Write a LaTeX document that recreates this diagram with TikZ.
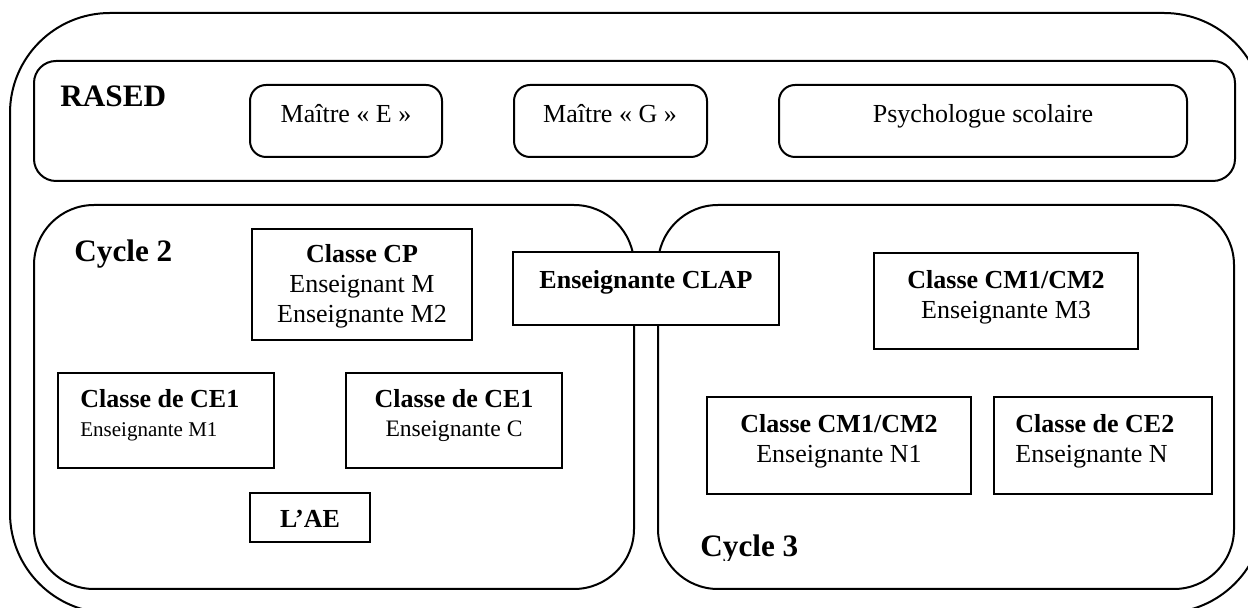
\documentclass[tikz,border=0pt]{standalone}
\usepackage{fontspec}
\setmainfont{Liberation Serif}
\usetikzlibrary{fit}
\begin{document}
\begin{tikzpicture}[x=0.5pt,y=-0.5pt,
  frame/.style={draw, line width=1pt, inner sep=0pt},
  sq/.style={frame},
  rnd/.style={frame, rounded corners=#1},
  txt/.style={anchor=base, inner sep=0pt, font=\fontsize{13}{15}\selectfont},
  btxt/.style={anchor=base, inner sep=0pt, font=\fontsize{13}{15}\selectfont\bfseries},
  head/.style={anchor=base west, inner sep=0pt, font=\fontsize{15.6}{18}\selectfont\bfseries}]
\useasboundingbox (0,0) rectangle (1248,608);
\clip (0,0) rectangle (1248,608);
% outer frame
\node[rnd=50pt, fit={(10,13)(1264,613)}] (outer) {};
% RASED
\node[rnd=11pt, fit={(34,61)(1235,181)}] (rased) {};
\node[head] (rasedt) at (60,107) {RASED};
\node[rnd=8pt, fit={(250,85)(442,157)}] (me) {};
\node[txt] (met) at (346,123) {Maître «~E~»};
\node[rnd=8pt, fit={(514,85)(707,157)}] (mg) {};
\node[txt] (mgt) at (610,123) {Maître «~G~»};
\node[rnd=8pt, fit={(779,85)(1187,157)}] (psy) {};
\node[txt] (psyt) at (983,123) {Psychologue scolaire};
% cycles
\node[rnd=30pt, fit={(34,205)(634,589)}] (c2) {};
\node[head] (c2t) at (74,262) {Cycle 2};
\node[rnd=30pt, fit={(658,205)(1234,589)}] (c3) {};
\begin{scope}
  \clip (660,500) rectangle (900,561);
  \node[head] (c3t) at (700,557) {Cycle 3};
\end{scope}
% cycle 2 boxes
\node[sq, fit={(252,229)(472,340)}] (cp) {};
\node[btxt] (cp1) at (362,263) {Classe CP};
\node[txt] (cp2) at (362,293) {Enseignant M};
\node[txt] (cp3) at (362,323) {Enseignante M2};
\node[sq, fill=white, fit={(513,252)(779,325)}] (clap) {};
\node[btxt] (clapt) at (646,289) {Enseignante CLAP};
\node[sq, fit={(58,373)(274,468)}] (ce1a) {};
\node[btxt, anchor=base west] (ce1a1) at (80,408) {Classe de CE1};
\node[txt, anchor=base west, font=\fontsize{10.5}{12}\selectfont] (ce1a2) at (80,437) {Enseignante M1};
\node[sq, fit={(346,373)(562,468)}] (ce1b) {};
\node[btxt] (ce1b1) at (454,408) {Classe de CE1};
\node[txt, font=\fontsize{11.8}{14}\selectfont] (ce1b2) at (454,437) {Enseignante C};
\node[sq, fit={(250,493)(370,542)}] (ae) {};
\node[btxt] (aet) at (310,528) {L’AE};
% cycle 3 boxes
\node[sq, fit={(874,253)(1138,349)}] (cmu) {};
\node[btxt] (cmu1) at (1006,289) {Classe CM1/CM2};
\node[txt] (cmu2) at (1006,319) {Enseignante M3};
\node[sq, fit={(707,397)(971,494)}] (cml) {};
\node[btxt] (cml1) at (839,433) {Classe CM1/CM2};
\node[txt] (cml2) at (839,463) {Enseignante N1};
\node[sq, fit={(994,397)(1212,494)}] (ce2) {};
\node[btxt, anchor=base west] (ce21) at (1015,433) {Classe de CE2};
\node[txt, anchor=base west] (ce22) at (1015,463) {Enseignante N};
\end{tikzpicture}
\end{document}
